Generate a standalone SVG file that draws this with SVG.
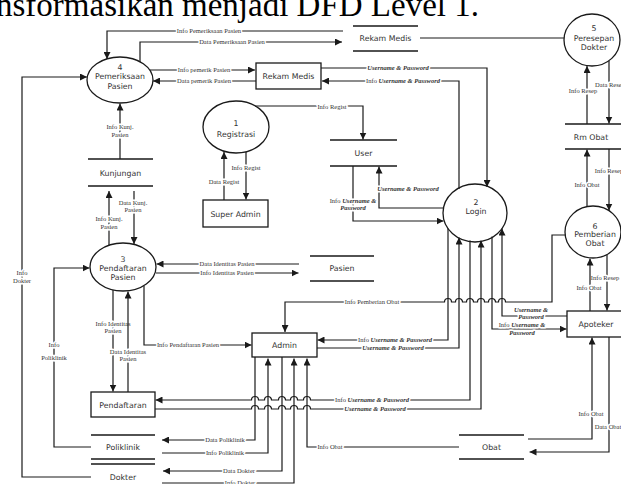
<svg xmlns="http://www.w3.org/2000/svg" width="621" height="484" viewBox="0 0 621 484">
<style>
.s{fill:none;stroke:#1a1a1a;stroke-width:1.3}
.c{fill:none;stroke:#1a1a1a;stroke-width:1.2}
.t{font-family:"DejaVu Sans",sans-serif;font-size:7.8px;fill:#333;text-anchor:middle}
.l{font-family:"Liberation Serif",serif;font-size:6.5px;fill:#333;text-anchor:middle;paint-order:stroke;stroke:#fff;stroke-width:3px;stroke-linejoin:round}
.bi{font-weight:bold;font-style:italic}
</style>
<defs>
<marker id="a" viewBox="0 0 7 7" markerWidth="7" markerHeight="7" refX="7" refY="3.5" orient="auto" markerUnits="userSpaceOnUse"><path d="M0,0L7,3.5L0,7z" fill="#1a1a1a"/></marker>
</defs>
<rect width="621" height="484" fill="#fff"/>
<text x="-4" y="16" font-family="Liberation Serif,serif" font-size="33" fill="#000">nsformasikan menjadi DFD Level 1.</text>

<g id="connectors">
<path class="c" marker-end="url(#a)" d="M343,31H107V59"/>
<text class="l" x="209" y="33.3">Info Pemeriksaan Pasien</text>
<path class="c" marker-end="url(#a)" d="M140,62V42H342"/>
<text class="l" x="232" y="44.3">Data Pemeriksaan Pasien</text>
<path class="c" marker-end="url(#a)" d="M150,70H255"/>
<text class="l" x="204" y="72.3">Info pemerik Pasien</text>
<path class="c" marker-end="url(#a)" d="M256,81H153"/>
<text class="l" x="204" y="83.3">Data pemerik Pasien</text>
<path class="c" marker-end="url(#a)" d="M321,68H487V187"/>
<text class="l" x="398" y="70.3"><tspan class="bi">Username &amp; Password</tspan></text>
<path class="c" marker-end="url(#a)" d="M459,189V81H322"/>
<text class="l" x="403" y="83.3">Info <tspan class="bi">Username &amp; Password</tspan></text>
<path class="c" d="M420,38H564"/>

<path class="c" marker-end="url(#a)" d="M255,106H363V139.5"/>
<text class="l" x="332" y="109.3">Info Regist</text>
<path class="c" marker-end="url(#a)" d="M246,152V199.5"/>
<text class="l" x="246" y="170.3">Info Regist</text>
<path class="c" marker-end="url(#a)" d="M224,200V152"/>
<text class="l" x="224" y="184.3">Data Regist</text>

<path class="c" marker-end="url(#a)" d="M443.5,208H379V166.5"/>
<text class="l" x="408" y="191.3"><tspan class="bi">Username &amp; Password</tspan></text>
<path class="c" marker-end="url(#a)" d="M353,166V221H443.5"/>
<text class="l" x="353" y="203.3">Info <tspan class="bi">Username &amp;</tspan></text>
<text class="l" x="353" y="209.8"><tspan class="bi">Password</tspan></text>

<path class="c" marker-end="url(#a)" d="M120,159V103.5"/>
<text class="l" x="120" y="129.3">Info Kunj.</text>
<text class="l" x="120" y="137.3">Pasien</text>
<path class="c" marker-end="url(#a)" d="M109,245V191"/>
<text class="l" x="109" y="221.3">Info Kunj.</text>
<text class="l" x="109" y="229.3">Pasien</text>
<path class="c" marker-end="url(#a)" d="M134,191V244"/>
<text class="l" x="133" y="205.3">Data Kunj.</text>
<text class="l" x="133" y="212.3">Pasien</text>

<path class="c" marker-end="url(#a)" d="M299,264H156.5"/>
<text class="l" x="227" y="266.3">Data Identitas Pasien</text>
<path class="c" marker-end="url(#a)" d="M156,273H298.5"/>
<text class="l" x="227" y="275.3">Info Identitas Pasien</text>
<path class="c" marker-end="url(#a)" d="M144,286V345H251.5"/>
<text class="l" x="188" y="347.3">Info Pendaftaran Pasien</text>
<path class="c" marker-end="url(#a)" d="M113,290V391.5"/>
<text class="l" x="113" y="326">Info Identitas</text>
<text class="l" x="113" y="332.8">Pasien</text>
<path class="c" marker-end="url(#a)" d="M128,392V291.5"/>
<text class="l" x="128" y="354.3">Data Identitas</text>
<text class="l" x="128" y="361">Pasien</text>
<path class="c" marker-end="url(#a)" d="M91,447H54V268H89.5"/>
<text class="l" x="54" y="347">Info</text>
<text class="l" x="54" y="360">Poliklinik</text>
<path class="c" marker-end="url(#a)" d="M91,477H22V77H87"/>
<text class="l" x="22" y="275.3">Info</text>
<text class="l" x="22" y="283.3">Dokter</text>

<path class="c" marker-end="url(#a)" d="M565.5,235H552V302H505.5A3.5,3.5 0 0 0 498.5,302H495.5A3.5,3.5 0 0 0 488.5,302H484.5A3.5,3.5 0 0 0 477.5,302H473.5A3.5,3.5 0 0 0 466.5,302H462.5A3.5,3.5 0 0 0 455.5,302H451.5A3.5,3.5 0 0 0 444.5,302H285V332"/>
<text class="l" x="372" y="304.3">Info Pemberian Obat</text>
<path class="c" marker-end="url(#a)" d="M448,228.5V340H317.5"/>
<text class="l" x="395" y="342.3">Info <tspan class="bi">Username &amp; Password</tspan></text>
<path class="c" marker-end="url(#a)" d="M317,348H459V237.5"/>
<text class="l" x="393" y="350.3"><tspan class="bi">Username &amp; Password</tspan></text>
<path class="c" marker-end="url(#a)" d="M470,240.5V400H310.5A3.5,3.5 0 0 0 303.5,400H297.5A3.5,3.5 0 0 0 290.5,400H285.5A3.5,3.5 0 0 0 278.5,400H271.5A3.5,3.5 0 0 0 264.5,400H258.5A3.5,3.5 0 0 0 251.5,400H155.5"/>
<text class="l" x="372" y="402.3">Info <tspan class="bi">Username &amp; Password</tspan></text>
<path class="c" marker-end="url(#a)" d="M155,409H251.5A3.5,3.5 0 0 1 258.5,409H264.5A3.5,3.5 0 0 1 271.5,409H278.5A3.5,3.5 0 0 1 285.5,409H290.5A3.5,3.5 0 0 1 297.5,409H303.5A3.5,3.5 0 0 1 310.5,409H481V240.5"/>
<text class="l" x="375" y="411.3"><tspan class="bi">Username &amp; Password</tspan></text>
<path class="c" marker-end="url(#a)" d="M492,236.5V329H566.5"/>
<text class="l" x="522" y="327.3">Info <tspan class="bi">Username &amp;</tspan></text>
<text class="l" x="522" y="334.8"><tspan class="bi">Password</tspan></text>
<path class="c" marker-end="url(#a)" d="M567,316H502V228.5"/>
<text class="l" x="531" y="312.3"><tspan class="bi">Username &amp;</tspan></text>
<text class="l" x="531" y="318.8"><tspan class="bi">Password</tspan></text>

<path class="c" marker-end="url(#a)" d="M255,357V440H162"/>
<text class="l" x="225" y="442.3">Data Poliklinik</text>
<path class="c" marker-end="url(#a)" d="M162,453H268V358.5"/>
<text class="l" x="225" y="455.3">Info Poliklinik</text>
<path class="c" marker-end="url(#a)" d="M282,357V471H163"/>
<text class="l" x="239" y="473.3">Data Dokter</text>
<path class="c" marker-end="url(#a)" d="M162,483H294V358.5"/>
<text class="l" x="240" y="485.3">Info Dokter</text>
<path class="c" marker-end="url(#a)" d="M459,447H307V358.5"/>
<text class="l" x="330" y="449.3">Info Obat</text>

<path class="c" marker-end="url(#a)" d="M528,439H592V337.5"/>
<text class="l" x="591" y="416.3">Info Obat</text>
<path class="c" marker-end="url(#a)" d="M609,337V452H529.5"/>
<text class="l" x="608" y="429.3">Data Obat</text>
<path class="c" marker-end="url(#a)" d="M607,254.5V310.5"/>
<text class="l" x="605" y="280.3">Info Resep</text>
<path class="c" marker-end="url(#a)" d="M590,311V258.5"/>
<text class="l" x="589" y="290.3">Info Obat</text>
<path class="c" marker-end="url(#a)" d="M587,206.5V149.5"/>
<text class="l" x="587" y="187.3">Info Obat</text>
<path class="c" marker-end="url(#a)" d="M609,149V210.5"/>
<text class="l" x="609" y="173.3">Info Resep</text>
<path class="c" marker-end="url(#a)" d="M587,124V66"/>
<text class="l" x="583" y="92.5">Info Resep</text>
<path class="c" marker-end="url(#a)" d="M609,61V123.5"/>
<text class="l" x="610" y="86.5">Data Resep</text>
</g>

<g id="p4"><ellipse class="s" cx="120" cy="80" rx="33" ry="23"/><text class="t" x="120" y="69.5">4</text><text class="t" x="120" y="79">Pemeriksaan</text><text class="t" x="120" y="88.5">Pasien</text></g>
<g id="p1"><ellipse class="s" cx="236" cy="127" rx="33" ry="26"/><text class="t" x="236" y="126">1</text><text class="t" x="236" y="136.5">Registrasi</text></g>
<g id="p2"><ellipse class="s" cx="475" cy="213" rx="32" ry="29"/><text class="t" x="476" y="205">2</text><text class="t" x="476" y="213.5">Login</text></g>
<g id="p3"><ellipse class="s" cx="123" cy="267" rx="33" ry="24"/><text class="t" x="123" y="262">3</text><text class="t" x="123" y="271">Pendaftaran</text><text class="t" x="123" y="280">Pasien</text></g>
<g id="p5"><ellipse class="s" cx="592" cy="40" rx="28" ry="26"/><text class="t" x="594" y="30.5">5</text><text class="t" x="594" y="40.5">Peresepan</text><text class="t" x="594" y="50">Dokter</text></g>
<g id="p6"><ellipse class="s" cx="593" cy="232" rx="28" ry="26"/><text class="t" x="595" y="229">6</text><text class="t" x="595" y="237">Pemberian</text><text class="t" x="595" y="245.5">Obat</text></g>

<g id="e-rekam"><rect class="s" x="256" y="63" width="65" height="26"/><text class="t" x="288.5" y="79">Rekam Medis</text></g>
<g id="e-superadmin"><rect class="s" x="203" y="200" width="65" height="27"/><text class="t" x="235.5" y="216.5">Super Admin</text></g>
<g id="e-admin"><rect class="s" x="252" y="333" width="65" height="24"/><text class="t" x="284.5" y="348">Admin</text></g>
<g id="e-pendaftaran"><rect class="s" x="91" y="392" width="64" height="25"/><text class="t" x="123" y="407.5">Pendaftaran</text></g>
<g id="e-apoteker"><rect class="s" x="567" y="311" width="62" height="26"/><text class="t" x="596" y="327">Apoteker</text></g>

<g id="d-rekam"><path class="s" d="M353,26H418M353,51H418"/><text class="t" x="385.5" y="41">Rekam Medis</text></g>
<g id="d-user"><path class="s" d="M330,140H397M330,166H397"/><text class="t" x="363.5" y="156">User</text></g>
<g id="d-kunjungan"><path class="s" d="M88,159H153M88,186H153"/><text class="t" x="120.5" y="175.5">Kunjungan</text></g>
<g id="d-rmobat"><path class="s" d="M565,124H630M565,149H630"/><text class="t" x="591" y="139.5">Rm Obat</text></g>
<g id="d-pasien"><path class="s" d="M310,256H374M310,281H374"/><text class="t" x="342" y="271">Pasien</text></g>
<g id="d-poliklinik"><path class="s" d="M91,435H155M91,459H155"/><text class="t" x="123" y="450">Poliklinik</text></g>
<g id="d-dokter"><path class="s" d="M91,464H155M91,490H155"/><text class="t" x="123" y="480">Dokter</text></g>
<g id="d-obat"><path class="s" d="M459,435H524M459,459H524"/><text class="t" x="491.5" y="450">Obat</text></g>
</svg>
